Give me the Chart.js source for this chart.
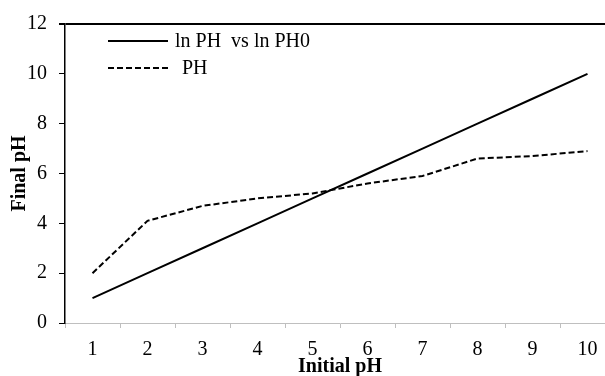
<!DOCTYPE html>
<html>
<head>
<meta charset="utf-8">
<script src="https://cdn.jsdelivr.net/npm/chart.js@4"></script>
<style>
  html, body { margin: 0; padding: 0; background: #fff; overflow: hidden; }
  #wrap { width: 615px; height: 376px; }
</style>
</head>
<body>
<div id="wrap"><canvas id="chart" width="615" height="376"></canvas></div>
<script>
const categories = ['1', '2', '3', '4', '5', '6', '7', '8', '9', '10'];
const lnSeries = [1, 2, 3, 4, 5, 6, 7, 8, 9, 10];
const phSeries = [2.0, 4.1, 4.7, 5.0, 5.2, 5.6, 5.9, 6.6, 6.7, 6.9];
const seriesNames = ['ln PH  vs ln PH0', 'PH'];
const yMin = 0, yMax = 12, yStep = 2;

const FONT = '"Liberation Serif", "Times New Roman", serif';

// legend drawn inside the plot, top left
const innerLegend = {
  id: 'innerLegend',
  afterDraw(chart) {
    const ctx = chart.ctx;
    const rows = [{ y: 41, textX: 175 }, { y: 68, textX: 182 }];
    chart.data.datasets.forEach((ds, i) => {
      const r = rows[i];
      ctx.save();
      ctx.strokeStyle = ds.borderColor;
      ctx.lineWidth = ds.borderWidth;
      ctx.setLineDash(ds.borderDash || []);
      ctx.beginPath();
      ctx.moveTo(108, r.y);
      ctx.lineTo(168, r.y);
      ctx.stroke();
      ctx.setLineDash([]);
      ctx.fillStyle = '#000';
      ctx.font = '20px ' + FONT;
      ctx.textBaseline = 'middle';
      ctx.fillText(ds.label, r.textX, r.y + 1);
      ctx.restore();
    });
  }
};

new Chart(document.getElementById('chart'), {
  type: 'line',
  data: {
    labels: categories,
    datasets: [
      {
        label: seriesNames[0],
        data: lnSeries,
        borderColor: '#000',
        borderWidth: 2,
        pointRadius: 0,
        tension: 0,
        fill: false
      },
      {
        label: seriesNames[1],
        data: phSeries,
        borderColor: '#000',
        borderWidth: 2,
        borderDash: [6, 3],
        pointRadius: 0,
        tension: 0,
        fill: false
      }
    ]
  },
  options: {
    responsive: false,
    animation: false,
    layout: { padding: { top: 22, right: 0, left: 0, bottom: 0 } },
    plugins: {
      legend: { display: false },
      tooltip: { enabled: false }
    },
    scales: {
      x: {
        type: 'category',
        offset: true,
        grid: {
          offset: true,
          drawOnChartArea: false,
          drawTicks: true,
          tickLength: 5,
          tickColor: '#bfbfbf'
        },
        border: { color: '#bfbfbf', width: 1 },
        ticks: {
          color: '#000',
          font: { family: FONT, size: 20 },
          padding: 10,
          maxRotation: 0
        },
        title: {
          display: true,
          text: 'Initial pH',
          color: '#000',
          font: { family: FONT, size: 20, weight: 'bold' },
          padding: { top: 0, bottom: -3 }
        },
        afterFit(scale) { scale.height = 53; }
      },
      y: {
        min: yMin,
        max: yMax,
        ticks: {
          stepSize: yStep,
          color: '#000',
          font: { family: FONT, size: 20 },
          padding: 12
        },
        grid: {
          color: c => (c.tick && c.tick.value === yMax ? '#000' : 'transparent'),
          lineWidth: c => (c.tick && c.tick.value === yMax ? 2 : 1),
          tickColor: '#000',
          tickLength: 6
        },
        border: { color: '#000', width: 1.5 },
        title: {
          display: true,
          text: 'Final pH',
          color: '#000',
          font: { family: FONT, size: 20, weight: 'bold' },
          padding: { top: 8, bottom: 0 }
        },
        afterFit(scale) { scale.width = 65; }
      }
    }
  },
  plugins: [innerLegend]
});
</script>
</body>
</html>
